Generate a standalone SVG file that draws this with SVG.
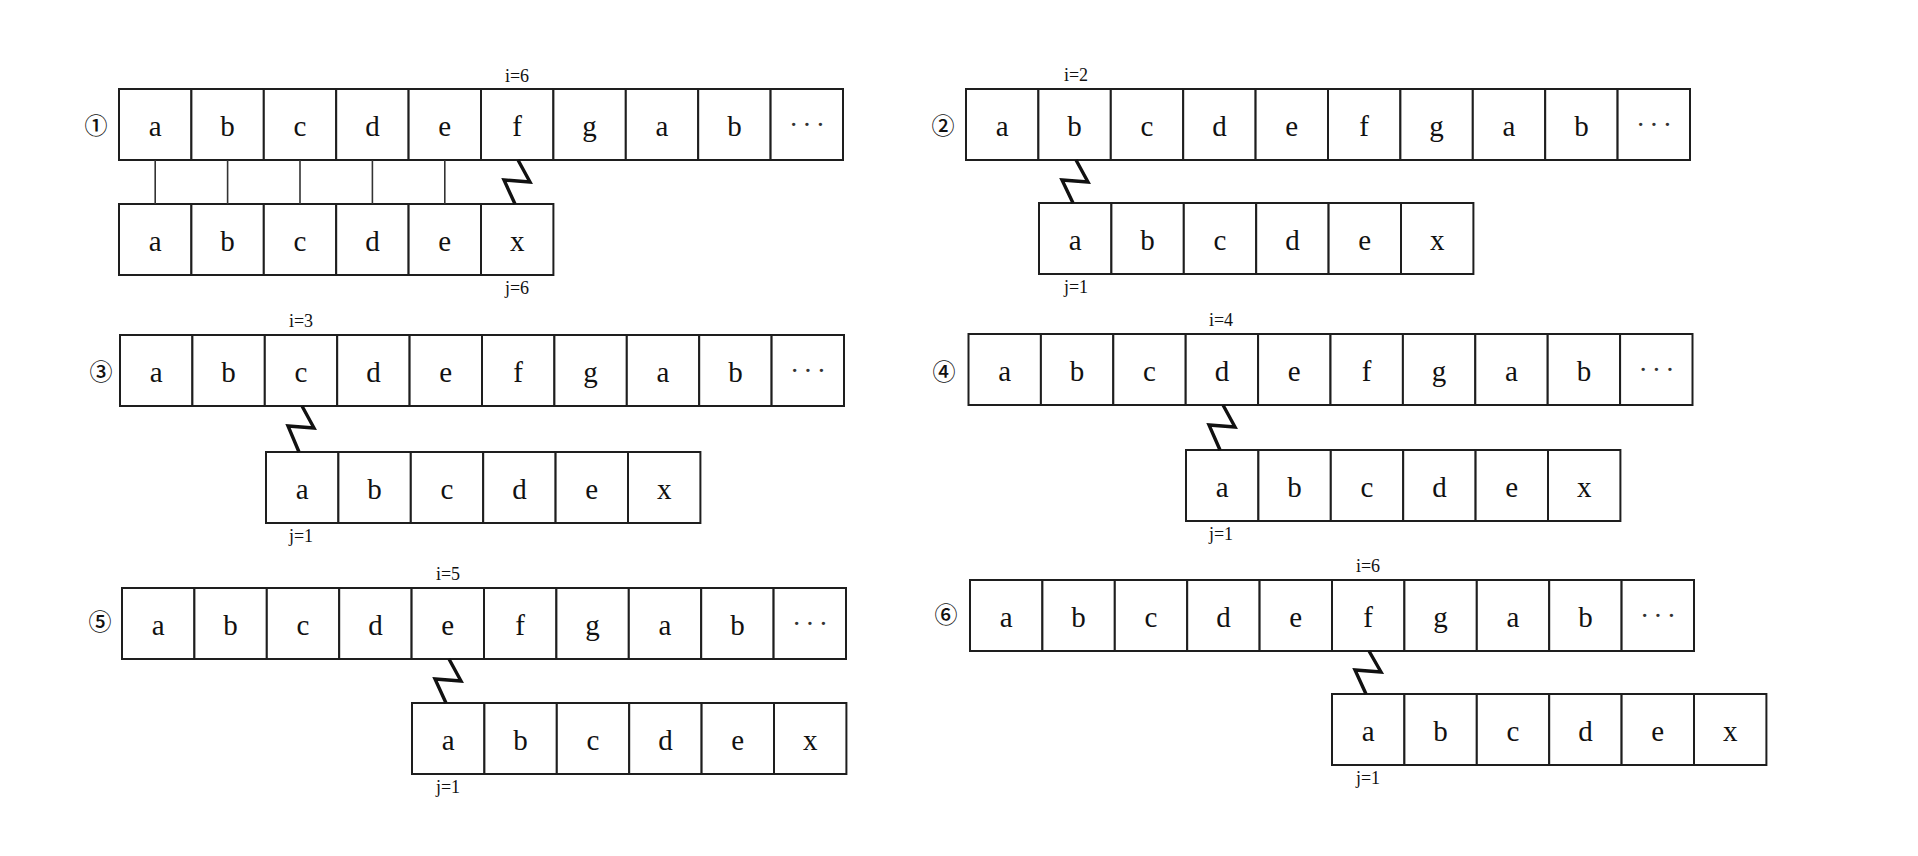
<svg xmlns="http://www.w3.org/2000/svg" width="1918" height="856" viewBox="0 0 1918 856">
<style>
.c{fill:#fff;stroke:#1e1e1e;stroke-width:2}
.t{font-family:"Liberation Serif",serif;font-size:29px;fill:#111;text-anchor:middle}
.d{font-family:"Liberation Serif",serif;font-size:28px;fill:#333;text-anchor:middle;letter-spacing:4px}
.l{font-family:"Liberation Serif",serif;font-size:18px;fill:#111;text-anchor:middle}
.n{font-family:"Noto Sans CJK SC","DejaVu Sans",sans-serif;font-size:23px;font-weight:500;fill:#111;text-anchor:middle}
.k{fill:none;stroke:#333;stroke-width:1.6}
.z{fill:none;stroke:#111;stroke-width:3.4;stroke-linejoin:miter}
</style>
<rect width="1918" height="856" fill="#fff"/>

<!-- Panel 1 -->
<g id="panel1">
<text class="n" x="96" y="134">①</text>
<g id="p1-text" transform="translate(119,89)">
<g id="p1-t1"><rect class="c" x="0" y="0" width="72.4" height="71"/><text class="t" x="36.2" y="47">a</text></g>
<g id="p1-t2"><rect class="c" x="72.4" y="0" width="72.4" height="71"/><text class="t" x="108.6" y="47">b</text></g>
<g id="p1-t3"><rect class="c" x="144.8" y="0" width="72.4" height="71"/><text class="t" x="181" y="47">c</text></g>
<g id="p1-t4"><rect class="c" x="217.2" y="0" width="72.4" height="71"/><text class="t" x="253.4" y="47">d</text></g>
<g id="p1-t5"><rect class="c" x="289.6" y="0" width="72.4" height="71"/><text class="t" x="325.8" y="47">e</text></g>
<g id="p1-t6"><rect class="c" x="362" y="0" width="72.4" height="71"/><text class="t" x="398.2" y="47">f</text></g>
<g id="p1-t7"><rect class="c" x="434.4" y="0" width="72.4" height="71"/><text class="t" x="470.6" y="47">g</text></g>
<g id="p1-t8"><rect class="c" x="506.8" y="0" width="72.4" height="71"/><text class="t" x="543" y="47">a</text></g>
<g id="p1-t9"><rect class="c" x="579.2" y="0" width="72.4" height="71"/><text class="t" x="615.4" y="47">b</text></g>
<g id="p1-t10"><rect class="c" x="651.6" y="0" width="72.4" height="71"/><text class="d" x="690" y="45">···</text></g>
</g>
<g id="p1-pattern" transform="translate(119,204)">
<g id="p1-p1"><rect class="c" x="0" y="0" width="72.4" height="71"/><text class="t" x="36.2" y="47">a</text></g>
<g id="p1-p2"><rect class="c" x="72.4" y="0" width="72.4" height="71"/><text class="t" x="108.6" y="47">b</text></g>
<g id="p1-p3"><rect class="c" x="144.8" y="0" width="72.4" height="71"/><text class="t" x="181" y="47">c</text></g>
<g id="p1-p4"><rect class="c" x="217.2" y="0" width="72.4" height="71"/><text class="t" x="253.4" y="47">d</text></g>
<g id="p1-p5"><rect class="c" x="289.6" y="0" width="72.4" height="71"/><text class="t" x="325.8" y="47">e</text></g>
<g id="p1-p6"><rect class="c" x="362" y="0" width="72.4" height="71"/><text class="t" x="398.2" y="47">x</text></g>
</g>
<text class="l" x="517" y="82">i=6</text>
<text class="l" x="517" y="294">j=6</text>
</g>

<!-- Panel 2 -->
<g id="panel2">
<text class="n" x="943" y="134">②</text>
<g id="p2-text" transform="translate(966,89)">
<g id="p2-t1"><rect class="c" x="0" y="0" width="72.4" height="71"/><text class="t" x="36.2" y="47">a</text></g>
<g id="p2-t2"><rect class="c" x="72.4" y="0" width="72.4" height="71"/><text class="t" x="108.6" y="47">b</text></g>
<g id="p2-t3"><rect class="c" x="144.8" y="0" width="72.4" height="71"/><text class="t" x="181" y="47">c</text></g>
<g id="p2-t4"><rect class="c" x="217.2" y="0" width="72.4" height="71"/><text class="t" x="253.4" y="47">d</text></g>
<g id="p2-t5"><rect class="c" x="289.6" y="0" width="72.4" height="71"/><text class="t" x="325.8" y="47">e</text></g>
<g id="p2-t6"><rect class="c" x="362" y="0" width="72.4" height="71"/><text class="t" x="398.2" y="47">f</text></g>
<g id="p2-t7"><rect class="c" x="434.4" y="0" width="72.4" height="71"/><text class="t" x="470.6" y="47">g</text></g>
<g id="p2-t8"><rect class="c" x="506.8" y="0" width="72.4" height="71"/><text class="t" x="543" y="47">a</text></g>
<g id="p2-t9"><rect class="c" x="579.2" y="0" width="72.4" height="71"/><text class="t" x="615.4" y="47">b</text></g>
<g id="p2-t10"><rect class="c" x="651.6" y="0" width="72.4" height="71"/><text class="d" x="690" y="45">···</text></g>
</g>
<g id="p2-pattern" transform="translate(1039,203)">
<g id="p2-p1"><rect class="c" x="0" y="0" width="72.4" height="71"/><text class="t" x="36.2" y="47">a</text></g>
<g id="p2-p2"><rect class="c" x="72.4" y="0" width="72.4" height="71"/><text class="t" x="108.6" y="47">b</text></g>
<g id="p2-p3"><rect class="c" x="144.8" y="0" width="72.4" height="71"/><text class="t" x="181" y="47">c</text></g>
<g id="p2-p4"><rect class="c" x="217.2" y="0" width="72.4" height="71"/><text class="t" x="253.4" y="47">d</text></g>
<g id="p2-p5"><rect class="c" x="289.6" y="0" width="72.4" height="71"/><text class="t" x="325.8" y="47">e</text></g>
<g id="p2-p6"><rect class="c" x="362" y="0" width="72.4" height="71"/><text class="t" x="398.2" y="47">x</text></g>
</g>
<text class="l" x="1076" y="81">i=2</text>
<text class="l" x="1076" y="293">j=1</text>
</g>

<!-- Panel 3 -->
<g id="panel3">
<text class="n" x="101" y="380">③</text>
<g id="p3-text" transform="translate(120,335)">
<g id="p3-t1"><rect class="c" x="0" y="0" width="72.4" height="71"/><text class="t" x="36.2" y="47">a</text></g>
<g id="p3-t2"><rect class="c" x="72.4" y="0" width="72.4" height="71"/><text class="t" x="108.6" y="47">b</text></g>
<g id="p3-t3"><rect class="c" x="144.8" y="0" width="72.4" height="71"/><text class="t" x="181" y="47">c</text></g>
<g id="p3-t4"><rect class="c" x="217.2" y="0" width="72.4" height="71"/><text class="t" x="253.4" y="47">d</text></g>
<g id="p3-t5"><rect class="c" x="289.6" y="0" width="72.4" height="71"/><text class="t" x="325.8" y="47">e</text></g>
<g id="p3-t6"><rect class="c" x="362" y="0" width="72.4" height="71"/><text class="t" x="398.2" y="47">f</text></g>
<g id="p3-t7"><rect class="c" x="434.4" y="0" width="72.4" height="71"/><text class="t" x="470.6" y="47">g</text></g>
<g id="p3-t8"><rect class="c" x="506.8" y="0" width="72.4" height="71"/><text class="t" x="543" y="47">a</text></g>
<g id="p3-t9"><rect class="c" x="579.2" y="0" width="72.4" height="71"/><text class="t" x="615.4" y="47">b</text></g>
<g id="p3-t10"><rect class="c" x="651.6" y="0" width="72.4" height="71"/><text class="d" x="690" y="45">···</text></g>
</g>
<g id="p3-pattern" transform="translate(266,452)">
<g id="p3-p1"><rect class="c" x="0" y="0" width="72.4" height="71"/><text class="t" x="36.2" y="47">a</text></g>
<g id="p3-p2"><rect class="c" x="72.4" y="0" width="72.4" height="71"/><text class="t" x="108.6" y="47">b</text></g>
<g id="p3-p3"><rect class="c" x="144.8" y="0" width="72.4" height="71"/><text class="t" x="181" y="47">c</text></g>
<g id="p3-p4"><rect class="c" x="217.2" y="0" width="72.4" height="71"/><text class="t" x="253.4" y="47">d</text></g>
<g id="p3-p5"><rect class="c" x="289.6" y="0" width="72.4" height="71"/><text class="t" x="325.8" y="47">e</text></g>
<g id="p3-p6"><rect class="c" x="362" y="0" width="72.4" height="71"/><text class="t" x="398.2" y="47">x</text></g>
</g>
<text class="l" x="301" y="327">i=3</text>
<text class="l" x="301" y="542">j=1</text>
</g>

<!-- Panel 4 -->
<g id="panel4">
<text class="n" x="944" y="380">④</text>
<g id="p4-text" transform="translate(968.5,334)">
<g id="p4-t1"><rect class="c" x="0" y="0" width="72.4" height="71"/><text class="t" x="36.2" y="47">a</text></g>
<g id="p4-t2"><rect class="c" x="72.4" y="0" width="72.4" height="71"/><text class="t" x="108.6" y="47">b</text></g>
<g id="p4-t3"><rect class="c" x="144.8" y="0" width="72.4" height="71"/><text class="t" x="181" y="47">c</text></g>
<g id="p4-t4"><rect class="c" x="217.2" y="0" width="72.4" height="71"/><text class="t" x="253.4" y="47">d</text></g>
<g id="p4-t5"><rect class="c" x="289.6" y="0" width="72.4" height="71"/><text class="t" x="325.8" y="47">e</text></g>
<g id="p4-t6"><rect class="c" x="362" y="0" width="72.4" height="71"/><text class="t" x="398.2" y="47">f</text></g>
<g id="p4-t7"><rect class="c" x="434.4" y="0" width="72.4" height="71"/><text class="t" x="470.6" y="47">g</text></g>
<g id="p4-t8"><rect class="c" x="506.8" y="0" width="72.4" height="71"/><text class="t" x="543" y="47">a</text></g>
<g id="p4-t9"><rect class="c" x="579.2" y="0" width="72.4" height="71"/><text class="t" x="615.4" y="47">b</text></g>
<g id="p4-t10"><rect class="c" x="651.6" y="0" width="72.4" height="71"/><text class="d" x="690" y="45">···</text></g>
</g>
<g id="p4-pattern" transform="translate(1186,450)">
<g id="p4-p1"><rect class="c" x="0" y="0" width="72.4" height="71"/><text class="t" x="36.2" y="47">a</text></g>
<g id="p4-p2"><rect class="c" x="72.4" y="0" width="72.4" height="71"/><text class="t" x="108.6" y="47">b</text></g>
<g id="p4-p3"><rect class="c" x="144.8" y="0" width="72.4" height="71"/><text class="t" x="181" y="47">c</text></g>
<g id="p4-p4"><rect class="c" x="217.2" y="0" width="72.4" height="71"/><text class="t" x="253.4" y="47">d</text></g>
<g id="p4-p5"><rect class="c" x="289.6" y="0" width="72.4" height="71"/><text class="t" x="325.8" y="47">e</text></g>
<g id="p4-p6"><rect class="c" x="362" y="0" width="72.4" height="71"/><text class="t" x="398.2" y="47">x</text></g>
</g>
<text class="l" x="1221" y="326">i=4</text>
<text class="l" x="1221" y="540">j=1</text>
</g>

<!-- Panel 5 -->
<g id="panel5">
<text class="n" x="100" y="630">⑤</text>
<g id="p5-text" transform="translate(122,588)">
<g id="p5-t1"><rect class="c" x="0" y="0" width="72.4" height="71"/><text class="t" x="36.2" y="47">a</text></g>
<g id="p5-t2"><rect class="c" x="72.4" y="0" width="72.4" height="71"/><text class="t" x="108.6" y="47">b</text></g>
<g id="p5-t3"><rect class="c" x="144.8" y="0" width="72.4" height="71"/><text class="t" x="181" y="47">c</text></g>
<g id="p5-t4"><rect class="c" x="217.2" y="0" width="72.4" height="71"/><text class="t" x="253.4" y="47">d</text></g>
<g id="p5-t5"><rect class="c" x="289.6" y="0" width="72.4" height="71"/><text class="t" x="325.8" y="47">e</text></g>
<g id="p5-t6"><rect class="c" x="362" y="0" width="72.4" height="71"/><text class="t" x="398.2" y="47">f</text></g>
<g id="p5-t7"><rect class="c" x="434.4" y="0" width="72.4" height="71"/><text class="t" x="470.6" y="47">g</text></g>
<g id="p5-t8"><rect class="c" x="506.8" y="0" width="72.4" height="71"/><text class="t" x="543" y="47">a</text></g>
<g id="p5-t9"><rect class="c" x="579.2" y="0" width="72.4" height="71"/><text class="t" x="615.4" y="47">b</text></g>
<g id="p5-t10"><rect class="c" x="651.6" y="0" width="72.4" height="71"/><text class="d" x="690" y="45">···</text></g>
</g>
<g id="p5-pattern" transform="translate(412,703)">
<g id="p5-p1"><rect class="c" x="0" y="0" width="72.4" height="71"/><text class="t" x="36.2" y="47">a</text></g>
<g id="p5-p2"><rect class="c" x="72.4" y="0" width="72.4" height="71"/><text class="t" x="108.6" y="47">b</text></g>
<g id="p5-p3"><rect class="c" x="144.8" y="0" width="72.4" height="71"/><text class="t" x="181" y="47">c</text></g>
<g id="p5-p4"><rect class="c" x="217.2" y="0" width="72.4" height="71"/><text class="t" x="253.4" y="47">d</text></g>
<g id="p5-p5"><rect class="c" x="289.6" y="0" width="72.4" height="71"/><text class="t" x="325.8" y="47">e</text></g>
<g id="p5-p6"><rect class="c" x="362" y="0" width="72.4" height="71"/><text class="t" x="398.2" y="47">x</text></g>
</g>
<text class="l" x="448" y="580">i=5</text>
<text class="l" x="448" y="793">j=1</text>
</g>

<!-- Panel 6 -->
<g id="panel6">
<text class="n" x="946" y="623">⑥</text>
<g id="p6-text" transform="translate(970,580)">
<g id="p6-t1"><rect class="c" x="0" y="0" width="72.4" height="71"/><text class="t" x="36.2" y="47">a</text></g>
<g id="p6-t2"><rect class="c" x="72.4" y="0" width="72.4" height="71"/><text class="t" x="108.6" y="47">b</text></g>
<g id="p6-t3"><rect class="c" x="144.8" y="0" width="72.4" height="71"/><text class="t" x="181" y="47">c</text></g>
<g id="p6-t4"><rect class="c" x="217.2" y="0" width="72.4" height="71"/><text class="t" x="253.4" y="47">d</text></g>
<g id="p6-t5"><rect class="c" x="289.6" y="0" width="72.4" height="71"/><text class="t" x="325.8" y="47">e</text></g>
<g id="p6-t6"><rect class="c" x="362" y="0" width="72.4" height="71"/><text class="t" x="398.2" y="47">f</text></g>
<g id="p6-t7"><rect class="c" x="434.4" y="0" width="72.4" height="71"/><text class="t" x="470.6" y="47">g</text></g>
<g id="p6-t8"><rect class="c" x="506.8" y="0" width="72.4" height="71"/><text class="t" x="543" y="47">a</text></g>
<g id="p6-t9"><rect class="c" x="579.2" y="0" width="72.4" height="71"/><text class="t" x="615.4" y="47">b</text></g>
<g id="p6-t10"><rect class="c" x="651.6" y="0" width="72.4" height="71"/><text class="d" x="690" y="45">···</text></g>
</g>
<g id="p6-pattern" transform="translate(1332,694)">
<g id="p6-p1"><rect class="c" x="0" y="0" width="72.4" height="71"/><text class="t" x="36.2" y="47">a</text></g>
<g id="p6-p2"><rect class="c" x="72.4" y="0" width="72.4" height="71"/><text class="t" x="108.6" y="47">b</text></g>
<g id="p6-p3"><rect class="c" x="144.8" y="0" width="72.4" height="71"/><text class="t" x="181" y="47">c</text></g>
<g id="p6-p4"><rect class="c" x="217.2" y="0" width="72.4" height="71"/><text class="t" x="253.4" y="47">d</text></g>
<g id="p6-p5"><rect class="c" x="289.6" y="0" width="72.4" height="71"/><text class="t" x="325.8" y="47">e</text></g>
<g id="p6-p6"><rect class="c" x="362" y="0" width="72.4" height="71"/><text class="t" x="398.2" y="47">x</text></g>
</g>
<text class="l" x="1368" y="572">i=6</text>
<text class="l" x="1368" y="784">j=1</text>
</g>

<!-- Connectors -->
<g id="connectors">
<line class="k" x1="155.2" y1="160" x2="155.2" y2="204"/>
<line class="k" x1="227.6" y1="160" x2="227.6" y2="204"/>
<line class="k" x1="300" y1="160" x2="300" y2="204"/>
<line class="k" x1="372.4" y1="160" x2="372.4" y2="204"/>
<line class="k" x1="444.8" y1="160" x2="444.8" y2="204"/>
<polyline class="z" points="518,160 530,182 504,180 515,204"/>
<polyline class="z" points="1076,160 1088,182 1062,180 1073,203"/>
<polyline class="z" points="302,406 314,428 288,426 299,452"/>
<polyline class="z" points="1223,405 1235,427 1209,425 1220,450"/>
<polyline class="z" points="449,659 461,681 435,679 446,703"/>
<polyline class="z" points="1369,651 1381,672 1355,670 1366,694"/>
</g>
</svg>
